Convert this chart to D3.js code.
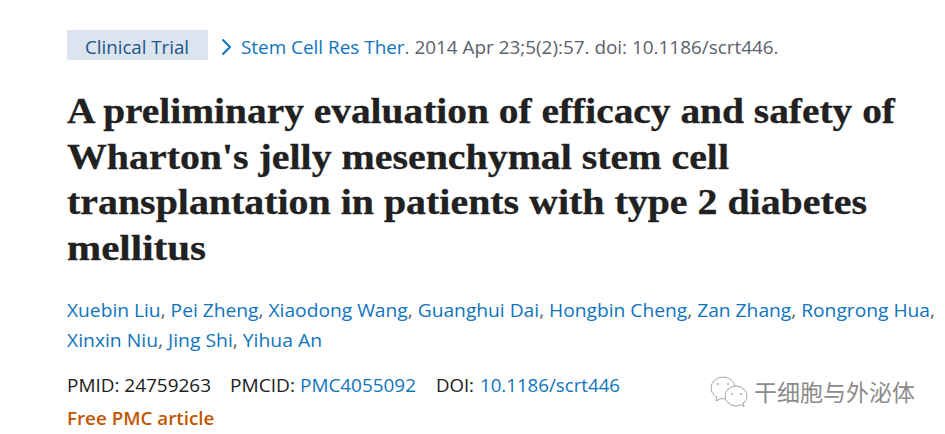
<!DOCTYPE html>
<html>
<head>
<meta charset="utf-8">
<script src="https://cdn.jsdelivr.net/npm/d3@7"></script>
<style>
  html, body { margin: 0; padding: 0; background: #fff; overflow: hidden; }
  text { font-family: "Open Sans", "Noto Sans", sans-serif; }
  .title { font-family: "Liberation Serif", "DejaVu Serif", serif; font-weight: 700; font-size: 36px; fill: #212121; stroke: #212121; stroke-width: 0.3px; }
</style>
</head>
<body>
<svg id="page" width="945" height="434"></svg>
<script>
const titleLines = [
  "A preliminary evaluation of efficacy and safety of",
  "Wharton's jelly mesenchymal stem cell",
  "transplantation in patients with type 2 diabetes",
  "mellitus",
];
const titleWidths = [828, 662, 800, 139];

const badgeLabel = "Clinical Trial";
const journalParts = [
  { text: "Stem Cell Res Ther", kind: "link" },
  { text: ". 2014 Apr 23;5(2):57. doi: 10.1186/scrt446.", kind: "muted" },
];

const authorRows = [
  ["Xuebin Liu", "Pei Zheng", "Xiaodong Wang", "Guanghui Dai", "Hongbin Cheng", "Zan Zhang", "Rongrong Hua", ""],
  ["Xinxin Niu", "Jing Shi", "Yihua An"],
];
const authorWidths = [868, 255];

const idParts = [
  { text: "PMID: 24759263", kind: "dark", at: 67, width: 144 },
  { text: "PMCID:", kind: "dark", at: 230, width: 65 },
  { text: "PMC4055092", kind: "link", at: 300, width: 116 },
  { text: "DOI:", kind: "dark", at: 436, width: 38 },
  { text: "10.1186/scrt446", kind: "link", at: 480, width: 140 },
];
const freeLabel = "Free PMC article";
const watermark = "干细胞与外泌体";

const colors = { link: "#0f74bd", muted: "#5b616b", dark: "#212121", badge: "#dce4ef", badgeText: "#20558a", free: "#c05600", mark: "#8c8c8c" };

const svg = d3.select("#page");
const left = 67;

// badge and journal line
svg.append("rect").attr("x", left).attr("y", 30).attr("width", 141).attr("height", 30).attr("fill", colors.badge);
svg.append("text").attr("x", 85).attr("y", 54).attr("font-size", 18.7).attr("fill", colors.badgeText).text(badgeLabel);
svg.append("path").attr("d", "M222.5,39.5 L230,47 L222.5,54.5").attr("fill", "none").attr("stroke", colors.link).attr("stroke-width", 2);
const journal = svg.append("text").attr("x", 241).attr("y", 54).attr("font-size", 18.9);
journal.selectAll("tspan").data(journalParts).join("tspan")
  .attr("fill", (d) => colors[d.kind])
  .text((d) => d.text);

// title
const titleY = d3.scaleLinear().domain([0, 3]).range([123, 260]);
svg.selectAll(".title").data(titleLines).join("text")
  .attr("class", "title")
  .attr("x", left)
  .attr("y", (d, i) => titleY(i))
  .attr("textLength", (d, i) => titleWidths[i])
  .attr("lengthAdjust", "spacingAndGlyphs")
  .text((d) => d);

// authors
const authorY = d3.scaleLinear().domain([0, 1]).range([317, 347]);
authorRows.forEach((names, row) => {
  const line = svg.append("text").attr("x", left).attr("y", authorY(row)).attr("font-size", 19)
    .attr("textLength", authorWidths[row]).attr("lengthAdjust", "spacingAndGlyphs");
  const parts = [];
  names.forEach((name, i) => {
    if (name) parts.push({ text: name, kind: "link" });
    if (i < names.length - 1) parts.push({ text: i === names.length - 2 && !names[i + 1] ? "," : ", ", kind: "muted" });
  });
  line.selectAll("tspan").data(parts).join("tspan")
    .attr("fill", (d) => colors[d.kind])
    .text((d) => d.text);
});

// identifiers
svg.selectAll(".id").data(idParts).join("text")
  .attr("class", "id")
  .attr("x", (d) => d.at)
  .attr("y", 392)
  .attr("font-size", 18.8)
  .attr("textLength", (d) => d.width)
  .attr("lengthAdjust", "spacingAndGlyphs")
  .attr("fill", (d) => colors[d.kind])
  .text((d) => d.text);

svg.append("text").attr("x", left).attr("y", 425).attr("font-size", 18.8).attr("font-weight", 600).attr("fill", colors.free).text(freeLabel);

// watermark: two chat bubbles and the account name
const bubbles = svg.append("g").attr("fill", "#fff").attr("stroke", "#a8a8a8").attr("stroke-width", 1);
bubbles.append("ellipse").attr("cx", 723).attr("cy", 388).attr("rx", 12).attr("ry", 11);
bubbles.append("path").attr("d", "M717,397 L716,401 L722,398");
bubbles.append("ellipse").attr("cx", 736).attr("cy", 396).attr("rx", 11).attr("ry", 10);
bubbles.append("path").attr("d", "M741,404 L744,407 L743,402");
bubbles.append("g").attr("fill", "#a8a8a8").attr("stroke", "none").selectAll("circle")
  .data([[718, 384], [728, 384], [732, 394], [741, 394]]).join("circle")
  .attr("cx", (d) => d[0]).attr("cy", (d) => d[1]).attr("r", 1);
svg.append("text").attr("x", 754).attr("y", 401).attr("font-size", 23)
  .attr("fill", colors.mark).attr("style", 'font-family:"Noto Sans CJK SC"').text(watermark);
</script>
</body>
</html>
